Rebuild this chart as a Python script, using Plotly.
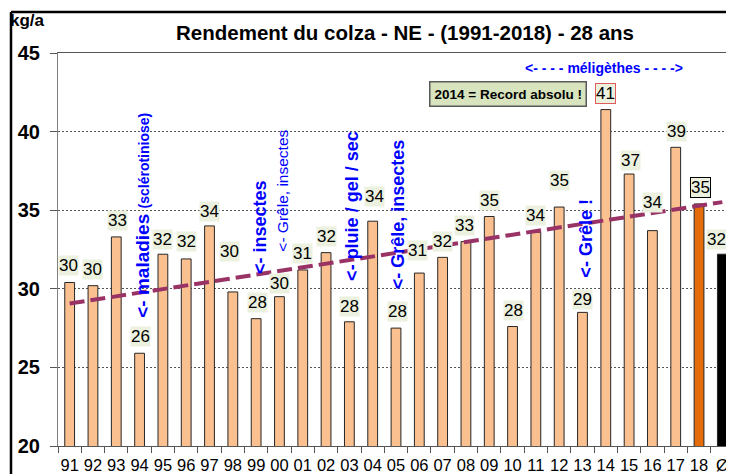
import numpy as np
import plotly.graph_objects as go

# ---------------- data ----------------
years = ["91", "92", "93", "94", "95", "96", "97", "98", "99", "00", "01", "02", "03", "04",
         "05", "06", "07", "08", "09", "10", "11", "12", "13", "14", "15", "16", "17", "18"]
yields = [30.4, 30.2, 33.3, 25.9, 32.2, 31.9, 34.0, 29.8, 28.1, 29.5, 31.2, 32.3, 27.9, 34.3,
          27.5, 31.0, 32.0, 33.0, 34.6, 27.6, 33.6, 35.2, 28.5, 41.4, 37.3, 33.7, 39.0, 35.4]
avg_label = "Ø"
avg_value = 32.2

categories = years + [avg_label]
values = yields + [avg_value]
labels = [str(int(v + 0.5)) for v in values]

# ---------------- styles ----------------
PEACH, ORANGE, BLACK = "#FAC090", "#E46C0A", "#000000"
BLUE = "#0000FF"
FONT = "Liberation Sans, Arial, sans-serif"
bar_colors = [PEACH] * (len(years) - 1) + [ORANGE] + [BLACK]
# label placement (pixels): centre of label above bar top, horizontal nudge
label_dy = [16.6, 16, 16.7, 16.3, 14.7, 17, 14.3, 40.3, 16.3, 13, 16.3, 16.6, 15, 24.3,
            17, 22.6, 15.6, 16.3, 16.3, 16, 16.3, 27, 13, 16, 13.3, 28, 15.6, 16, 15]
label_dx = [-1.6, 0, 1, 1, 0, 0, 0, -3.6, 1, 0, 0, 0, 0, 1.7,
            1, -1.6, 0, -1, 0, 1, 0, 0, 0, 0, 1, 0, 1, 1, -6]
label_border = ["rgba(0,0,0,0)"] * len(categories)
label_border[23] = "#E05A5A"
label_border[27] = "#000000"

# trend line (least squares over the 28 yearly yields)
idx = np.arange(len(yields))
slope, intercept = np.polyfit(idx, yields, 1)
trend = [intercept + slope * i for i in range(len(categories))]

# page offset (browser body margin) and target geometry in window pixels
OX, OY = 8, 8
W, H = 734 - OX, 474 - OY
L, R, T, B = 58 - OX, 734 - OX, 53 - OY, 446 - OY


def pxx(px):
    return (px - OX - L) / (R - L)


def pxy(py):
    return (B - (py - OY)) / (B - T)


fig = go.Figure()
fig.add_trace(go.Bar(
    x=categories, y=values, width=0.42,
    marker=dict(color=bar_colors, line=dict(color="#262626", width=1)),
    hoverinfo="x+y", showlegend=False,
))
fig.add_trace(go.Scatter(
    x=categories, y=trend, mode="lines",
    line=dict(color="#993366", width=4, dash="15px,6px"),
    hoverinfo="skip", showlegend=False,
))

annotations = []
for i, (v, t) in enumerate(zip(values, labels)):
    annotations.append(dict(
        x=i, y=v, xref="x", yref="y", text=t, showarrow=False,
        xanchor="center", yanchor="middle", yshift=label_dy[i], xshift=label_dx[i],
        font=dict(family=FONT, size=17, color="#000000"),
        bgcolor="#EBF1DE", bordercolor=label_border[i], borderwidth=1, borderpad=0,
    ))


def vnote(x, y, text, size, bold=True):
    t = f"<b>{text}</b>" if bold else text
    return dict(x=x, y=y, xref="x", yref="y", text=t, showarrow=False, textangle=-90,
                xanchor="center", yanchor="middle",
                font=dict(family=FONT, size=size, color=BLUE))


annotations += [
    dict(x=3.15, y=34.65, xref="x", yref="y", showarrow=False, textangle=-90,
         xanchor="center", yanchor="middle",
         text="<b>&lt;- maladies</b> <b><span style='font-size:14px'>(sclérotiniose)</span></b>",
         font=dict(family=FONT, size=19, color=BLUE)),
    vnote(8.14, 33.95, "&lt;- insectes", 18),
    vnote(9.15, 36.24, "&lt;- Grêle, insectes", 15.5, bold=False),
    vnote(12.08, 35.29, "&lt;- pluie / gel / sec", 18),
    vnote(14.09, 34.75, "&lt;- Grêle, insectes", 18),
    vnote(22.17, 33.22, "&lt;- Grêle !", 18),
    dict(x=22.94, y=44.07, xref="x", yref="y", showarrow=False,
         text="<b>&lt;- - - - méligèthes - - - -&gt;</b>",
         font=dict(family=FONT, size=14, color=BLUE)),
    dict(x=18.82, y=42.41, xref="x", yref="y", showarrow=False,
         text="<b>2014 = Record absolu !</b>",
         font=dict(family=FONT, size=13.5, color="#000000"),
         bgcolor="#D7E4BD", bordercolor="#595959", borderwidth=1.5, borderpad=4),
    dict(x=pxx(8), y=pxy(21), xref="paper", yref="paper", showarrow=False,
         xanchor="left", yanchor="middle", text="<b>kg/a</b>",
         font=dict(family=FONT, size=17, color="#000000")),
]

shapes = [
    dict(type="line", xref="paper", yref="paper",
         x0=pxx(11), x1=pxx(740), y0=pxy(12), y1=pxy(12),
         line=dict(color="#000000", width=2.5)),
    dict(type="line", xref="paper", yref="paper",
         x0=pxx(11), x1=pxx(11), y0=pxy(12), y1=pxy(480),
         line=dict(color="#000000", width=2.5)),
]

fig.update_layout(
    width=W, height=H,
    margin=dict(l=L, r=W - R, t=T, b=H - B, autoexpand=False),
    paper_bgcolor="#FFFFFF", plot_bgcolor="#FFFFFF",
    title=dict(text="<b>Rendement du colza - NE - (1991-2018) - 28 ans</b>",
               x=(405 - OX) / W, xanchor="center", y=1 - (33 - OY) / H, yanchor="middle",
               font=dict(family=FONT, size=20.5, color="#000000")),
    annotations=annotations, shapes=shapes,
    bargap=0.58,
)
fig.update_xaxes(
    type="category", range=[-0.5, len(categories) - 0.5], automargin=False,
    showline=True, linecolor="#555555", linewidth=1, mirror=True,
    ticks="outside", tickson="boundaries", ticklen=6, tickcolor="#555555",
    tickangle=0,
    tickfont=dict(family=FONT, size=16.5, color="#000000"),
    ticklabelstandoff=4, showgrid=False, fixedrange=True,
)
fig.update_yaxes(
    range=[20, 45], dtick=5, tick0=20, automargin=False,
    showline=True, linecolor="#808080", linewidth=1,
    ticks="outside", ticklen=7, tickcolor="#555555",
    tickfont=dict(family=FONT, size=20, color="#000000", weight="bold"),
    showgrid=True, gridcolor="#555555", gridwidth=1, griddash="2px,2px",
    zeroline=False, fixedrange=True, ticklabelstandoff=6,
)

fig.write_html("out.html")
